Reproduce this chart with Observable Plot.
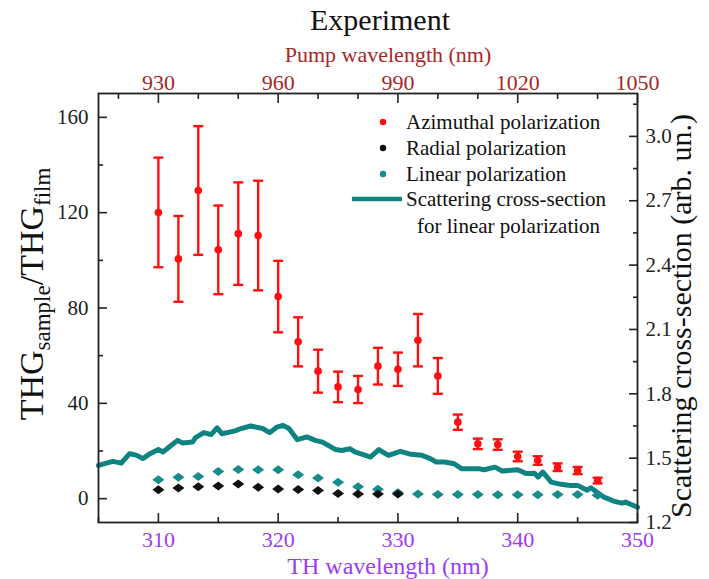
<!DOCTYPE html>
<html><head><meta charset="utf-8">
<script src="https://cdn.jsdelivr.net/npm/d3@7"></script>
<script src="https://cdn.jsdelivr.net/npm/@observablehq/plot@0.6"></script>
<style>body{margin:0;background:#fff}</style>
</head><body><div id="chart"></div>
<script>
// ---- data ----
// TH wavelengths (nm) of measured points (pump wavelength / 3)
const thWavelength = [310, 311.67, 313.33, 315, 316.67, 318.33, 320, 321.67, 323.33, 325, 326.67, 328.33, 330, 331.67, 333.33, 335, 336.67, 338.33, 340, 341.67, 343.33, 345, 346.67];
const azimuthal = [120.1, 100.6, 129.3, 104.4, 111.2, 110.4, 84.8, 65.8, 53.5, 46.9, 45.8, 55.6, 54.3, 66.5, 51.5, 32.1, 23.0, 22.7, 17.7, 16.0, 13.2, 11.8, 7.6];
const azimuthalErr = [23, 18, 27, 18.6, 21.5, 23, 15, 10.3, 9, 6.4, 5.7, 7.7, 7, 11, 7.5, 3.2, 2.2, 2.2, 2.0, 1.8, 1.6, 1.5, 1.2];
const radial = [3.7, 4.5, 5.05, 5.3, 6.2, 4.8, 4.1, 3.8, 3.4, 2.2, 2.0, 2.0, 2.0];
const linearPol = [7.9, 9.0, 9.3, 11.4, 12.2, 12.1, 12.1, 10.0, 8.7, 6.9, 5.0, 3.9, 2.5, 2.0, 1.8, 1.7, 1.7, 1.6, 1.6, 1.6, 1.7, 1.7, 1.4];
// scattering cross-section curve (right axis, arb. un.)
const scatWl = [305.0, 306.2, 306.9, 307.6, 308.2, 308.7, 309.3, 310.0, 310.4, 310.9, 311.6, 312.0, 312.85, 313.1, 313.8, 314.4, 314.9, 315.3, 316.4, 316.9, 317.7, 318.7, 319.3, 319.9, 320.4, 320.9, 321.6, 322.4, 323.1, 323.7, 324.8, 325.3, 326.0, 326.4, 327.3, 327.7, 328.4, 329.2, 330.2, 331.1, 332.0, 332.7, 333.2, 333.9, 334.7, 335.3, 336.7, 337.2, 338.1, 338.7, 340.0, 340.7, 341.4, 341.7, 342.1, 342.8, 343.6, 344.4, 345.0, 345.8, 346.1, 347.2, 348.0, 348.7, 349.0, 350.0];
const scatVal = [1.466, 1.485, 1.477, 1.521, 1.513, 1.498, 1.521, 1.540, 1.529, 1.552, 1.583, 1.571, 1.575, 1.596, 1.619, 1.610, 1.641, 1.614, 1.627, 1.638, 1.650, 1.638, 1.619, 1.645, 1.653, 1.638, 1.586, 1.599, 1.583, 1.575, 1.540, 1.536, 1.544, 1.529, 1.513, 1.505, 1.540, 1.513, 1.532, 1.518, 1.513, 1.498, 1.482, 1.482, 1.474, 1.451, 1.451, 1.446, 1.458, 1.440, 1.446, 1.428, 1.430, 1.412, 1.435, 1.388, 1.378, 1.373, 1.373, 1.350, 1.362, 1.318, 1.300, 1.290, 1.295, 1.271];
// ticks
const leftMajor = [0, 40, 80, 120, 160];
const leftMinor = [20, 60, 100, 140];
const rightMajor = [1.2, 1.5, 1.8, 2.1, 2.4, 2.7, 3.0];
const rightMinor = [1.35, 1.65, 1.95, 2.25, 2.55, 2.85, 3.15];
const bottomMajor = [310, 320, 330, 340, 350];
const bottomMinor = [305, 315, 325, 335, 345];
const pumpMajor = [930, 960, 990, 1020, 1050];
const pumpMinor = [920, 940, 950, 970, 980, 1000, 1010, 1030, 1040];
const legendLabels = ["Azimuthal polarization", "Radial polarization", "Linear polarization", "Scattering cross-section", "for linear polarization"];

// ---- helpers ----
const serif = "'Liberation Serif','Times New Roman',serif";
const red = "#ff1010", teal = "#0f8282", tealDot = "#178c8c", darkRed = "#a52828", purple = "#9b3cf6", ink = "#222";
const rMin = 1.2, rMax = 3.2, yMin = -10, yMax = 170;
const toY = r => (r - rMin) / (rMax - rMin) * (yMax - yMin) + yMin;
const fromY = y => (y - yMin) / (yMax - yMin) * (rMax - rMin) + rMin;

const az = thWavelength.map((x, i) => ({x, v: azimuthal[i], e: azimuthalErr[i]}));
const rad = radial.map((v, i) => ({x: thWavelength[i], v}));
const lin = linearPol.map((v, i) => ({x: thWavelength[i], v}));
const scat = scatWl.map((x, i) => ({x, y: toY(scatVal[i])}));

const wideDiamond = {draw(ctx, size) { const r = Math.sqrt(size / Math.PI); const h = r * 0.75; ctx.moveTo(-r, 0); ctx.lineTo(0, -h); ctx.lineTo(r, 0); ctx.lineTo(0, h); ctx.closePath(); }};
const capLine = {draw(ctx, size) { const r = Math.sqrt(size / Math.PI); ctx.moveTo(-r, 0); ctx.lineTo(r, 0); }};

const W = 709, H = 579, mL = 98, mR = 72, mT = 93, mB = 57;

const plot = Plot.plot({
  width: W, height: H,
  marginLeft: mL, marginRight: mR, marginTop: mT, marginBottom: mB,
  x: {domain: [305, 350]},
  y: {domain: [yMin, yMax]},
  style: {fontFamily: serif, fontSize: "22px", background: "#fff", color: ink, overflow: "visible"},
  marks: [
    Plot.line(scat, {x: "x", y: "y", stroke: teal, strokeWidth: 5, strokeLinejoin: "round"}),
    Plot.dot(lin, {x: "x", y: "v", symbol: wideDiamond, r: 6, fill: tealDot, stroke: "none"}),
    Plot.dot(rad, {x: "x", y: "v", symbol: wideDiamond, r: 6, fill: "#111", stroke: "none"}),
    Plot.ruleX(az, {x: "x", y1: d => d.v - d.e, y2: d => d.v + d.e, stroke: red, strokeWidth: 2.4}),
    Plot.dot(az, {x: "x", y: d => d.v + d.e, symbol: capLine, r: 5, stroke: red, strokeWidth: 2.4, fill: "none"}),
    Plot.dot(az, {x: "x", y: d => d.v - d.e, symbol: capLine, r: 5, stroke: red, strokeWidth: 2.4, fill: "none"}),
    Plot.dot(az, {x: "x", y: "v", r: 3.8, fill: red, stroke: "none"}),
    Plot.frame({stroke: ink, strokeWidth: 1.8}),
    // left axis
    Plot.axisY(leftMajor, {anchor: "left", tickSize: 0, tickPadding: 10, fontSize: 21, label: null}),
    Plot.axisY(leftMajor, {anchor: "left", tickSize: -9, tickFormat: () => "", strokeWidth: 1.6, label: null}),
    Plot.axisY(leftMinor, {anchor: "left", tickSize: -5, tickFormat: () => "", strokeWidth: 1.6, label: null}),
    // right axis
    Plot.axisY(rightMajor.map(toY), {anchor: "right", tickSize: 0, tickPadding: 8, fontSize: 21, tickFormat: d => fromY(d).toFixed(1), label: null}),
    Plot.axisY(rightMajor.map(toY), {anchor: "right", tickSize: -9, tickFormat: () => "", strokeWidth: 1.6, label: null}),
    Plot.axisY(rightMinor.map(toY), {anchor: "right", tickSize: -5, tickFormat: () => "", strokeWidth: 1.6, label: null}),
    // bottom axis
    Plot.axisX(bottomMajor, {anchor: "bottom", tickSize: 0, tickPadding: 9, fontSize: 22, fill: purple, label: null}),
    Plot.axisX(bottomMajor, {anchor: "bottom", tickSize: -9, tickFormat: () => "", strokeWidth: 1.6, label: null}),
    Plot.axisX(bottomMinor, {anchor: "bottom", tickSize: -5, tickFormat: () => "", strokeWidth: 1.6, label: null}),
    // top axis (pump wavelength = 3 x TH wavelength)
    Plot.axisX(pumpMajor.map(p => p / 3), {anchor: "top", tickSize: 0, tickPadding: 4, fontSize: 22, fill: darkRed, tickFormat: d => String(Math.round(d * 3)), label: null}),
    Plot.axisX(pumpMajor.map(p => p / 3), {anchor: "top", tickSize: -9, tickFormat: () => "", strokeWidth: 1.6, label: null}),
    Plot.axisX(pumpMinor.map(p => p / 3), {anchor: "top", tickSize: -5, tickFormat: () => "", strokeWidth: 1.6, label: null})
  ]
});

const svg = d3.select(plot);
const t = (x, y, s, size, fill, anchor = "middle") =>
  svg.append("text").attr("x", x).attr("y", y).attr("font-family", serif).attr("font-size", size)
    .attr("fill", fill).attr("text-anchor", anchor).text(s);

// titles / axis labels
t(380, 30, "Experiment", 30, "#111");
t(388, 62, "Pump wavelength (nm)", 22, darkRed);
t(388, 574, "TH wavelength (nm)", 24, purple);

// left label with subscripts
const ly = svg.append("text").attr("transform", "translate(43,294) rotate(-90)")
  .attr("font-family", serif).attr("font-size", 34).attr("fill", "#111").attr("text-anchor", "middle");
ly.append("tspan").text("THG");
ly.append("tspan").attr("font-size", 23).attr("dy", 7).text("sample");
ly.append("tspan").attr("dy", -7).text("/THG");
ly.append("tspan").attr("font-size", 23).attr("dy", 7).text("film");

// right label
svg.append("text").attr("transform", "translate(691,316) rotate(-90)")
  .attr("font-family", serif).attr("font-size", 30).attr("fill", "#111").attr("text-anchor", "middle")
  .text("Scattering cross-section (arb. un.)");

// legend
const lg = svg.append("g").attr("font-family", serif).attr("font-size", 21).attr("fill", "#111").attr("text-anchor", "start");
const ldots = [[122, red], [148, "#111"], [174, tealDot]];
ldots.forEach(([yy, c], i) => {
  lg.append("circle").attr("cx", 383).attr("cy", yy).attr("r", 3.2).attr("fill", c);
  lg.append("text").attr("x", 406).attr("y", yy).attr("dy", "0.33em").attr("text-anchor", "start").text(legendLabels[i]);
});
lg.append("line").attr("x1", 352).attr("x2", 402).attr("y1", 199).attr("y2", 199).attr("stroke", teal).attr("stroke-width", 4.5);
lg.append("text").attr("x", 406).attr("y", 199).attr("dy", "0.33em").attr("text-anchor", "start").text(legendLabels[3]);
lg.append("text").attr("x", 417).attr("y", 226).attr("dy", "0.33em").attr("text-anchor", "start").text(legendLabels[4]);

document.getElementById("chart").append(plot);
</script>
</body></html>
